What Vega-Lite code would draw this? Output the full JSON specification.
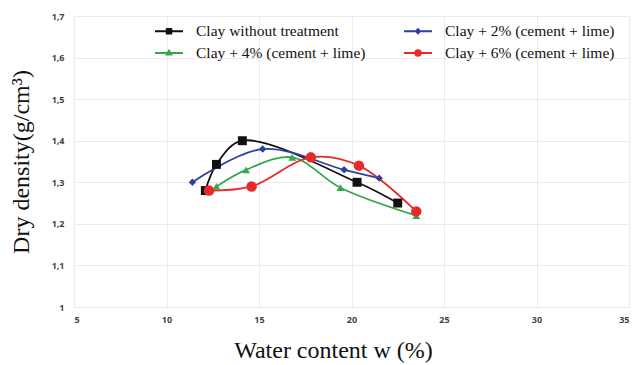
{
  "$schema": "https://vega.github.io/schema/vega-lite/v6.json",
  "width": 555,
  "height": 291,
  "autosize": "none",
  "padding": {"left": 74, "top": 16, "right": 6, "bottom": 58},
  "background": "white",
  "config": {
    "view": {"stroke": "#e6e6e6"},
    "axis": {"gridColor": "#ebebeb", "domain": false, "ticks": false, "labelFont": "Open Sans", "labelFontWeight": "bold", "labelFontSize": 9, "labelColor": "#444", "titleFont": "Liberation Serif", "titleFontWeight": "normal", "titleFontSize": 24, "titleColor": "#111"}
  },
  "data": {"values": [
    {"s": "Clay without treatment", "w": 12.1, "d": 1.28},
    {"s": "Clay without treatment", "w": 12.7, "d": 1.343},
    {"s": "Clay without treatment", "w": 14.1, "d": 1.40},
    {"s": "Clay without treatment", "w": 20.3, "d": 1.30},
    {"s": "Clay without treatment", "w": 22.5, "d": 1.25},
    {"s": "Clay + 2% (cement + lime)", "w": 11.4, "d": 1.30},
    {"s": "Clay + 2% (cement + lime)", "w": 15.2, "d": 1.38},
    {"s": "Clay + 2% (cement + lime)", "w": 19.6, "d": 1.33},
    {"s": "Clay + 2% (cement + lime)", "w": 21.5, "d": 1.31},
    {"s": "Clay + 4% (cement + lime)", "w": 12.7, "d": 1.29},
    {"s": "Clay + 4% (cement + lime)", "w": 14.3, "d": 1.33},
    {"s": "Clay + 4% (cement + lime)", "w": 16.8, "d": 1.36},
    {"s": "Clay + 4% (cement + lime)", "w": 19.4, "d": 1.287},
    {"s": "Clay + 4% (cement + lime)", "w": 23.5, "d": 1.22},
    {"s": "Clay + 6% (cement + lime)", "w": 12.3, "d": 1.28},
    {"s": "Clay + 6% (cement + lime)", "w": 14.6, "d": 1.29},
    {"s": "Clay + 6% (cement + lime)", "w": 17.8, "d": 1.36},
    {"s": "Clay + 6% (cement + lime)", "w": 20.4, "d": 1.34},
    {"s": "Clay + 6% (cement + lime)", "w": 23.5, "d": 1.23}
  ]},
  "encoding": {
    "x": {"field": "w", "type": "quantitative", "scale": {"domain": [5, 35], "nice": false}, "axis": {"values": [5, 10, 15, 20, 25, 30, 35], "title": "Water content w (%)", "titlePadding": 14, "labelPadding": 8, "titleX": 259, "titleAlign": "center"}},
    "y": {"field": "d", "type": "quantitative", "scale": {"domain": [1, 1.7], "nice": false, "zero": false}, "axis": {"values": [1, 1.1, 1.2, 1.3, 1.4, 1.5, 1.6, 1.7], "labelExpr": "datum.value == 1 ? '1' : replace(format(datum.value, '.1f'), '.', ',')", "title": "Dry density(g/cm³)", "titlePadding": 18, "labelPadding": 10}},
    "color": {"field": "s", "type": "nominal", "scale": {"domain": ["Clay without treatment", "Clay + 4% (cement + lime)", "Clay + 2% (cement + lime)", "Clay + 6% (cement + lime)"], "range": ["#111111", "#3aa64a", "#2e3f9e", "#e62a2a"]},
      "legend": {"orient": "none", "legendX": 84, "legendY": 4, "columns": 2, "title": null, "columnPadding": 34, "rowPadding": 2, "labelFont": "Liberation Serif", "labelFontSize": 15.5, "labelColor": "#111", "labelLimit": 400, "symbolSize": 400, "labelOffset": 16,
        "encode": {"symbols": {"update": {
          "shape": {"signal": "datum.value == 'Clay without treatment' ? 'M-1.4,0H1.4M-0.22,-0.22H0.22V0.22H-0.22Z' : datum.value == 'Clay + 2% (cement + lime)' ? 'M-1.4,0H1.4M0,-0.2L0.2,0L0,0.2L-0.2,0Z' : datum.value == 'Clay + 4% (cement + lime)' ? 'M-1.4,0H1.4M0,-0.22L0.22,0.16L-0.22,0.16Z' : 'M-1.4,0H1.4M0.27,0A0.27,0.27,0,1,1,-0.27,0A0.27,0.27,0,1,1,0.27,0Z'"},
          "fill": {"signal": "scale('color', datum.value)"},
          "stroke": {"signal": "scale('color', datum.value)"},
          "strokeWidth": {"value": 2},
          "opacity": {"value": 1}
        }}}}}
  },
  "layer": [
    {"mark": {"type": "line", "interpolate": "catmull-rom", "strokeWidth": 1.8}, "encoding": {"detail": {"field": "s"}}},
    {"transform": [{"filter": "datum.s == 'Clay without treatment'"}], "mark": {"type": "point", "filled": true, "opacity": 1, "shape": "square", "size": 80}},
    {"transform": [{"filter": "datum.s == 'Clay + 2% (cement + lime)'"}], "mark": {"type": "point", "filled": true, "opacity": 1, "shape": "diamond", "size": 55}},
    {"transform": [{"filter": "datum.s == 'Clay + 4% (cement + lime)'"}], "mark": {"type": "point", "filled": true, "opacity": 1, "shape": "triangle-up", "size": 60}},
    {"transform": [{"filter": "datum.s == 'Clay + 6% (cement + lime)'"}], "mark": {"type": "point", "filled": true, "opacity": 1, "shape": "circle", "size": 110}}
  ]
}
